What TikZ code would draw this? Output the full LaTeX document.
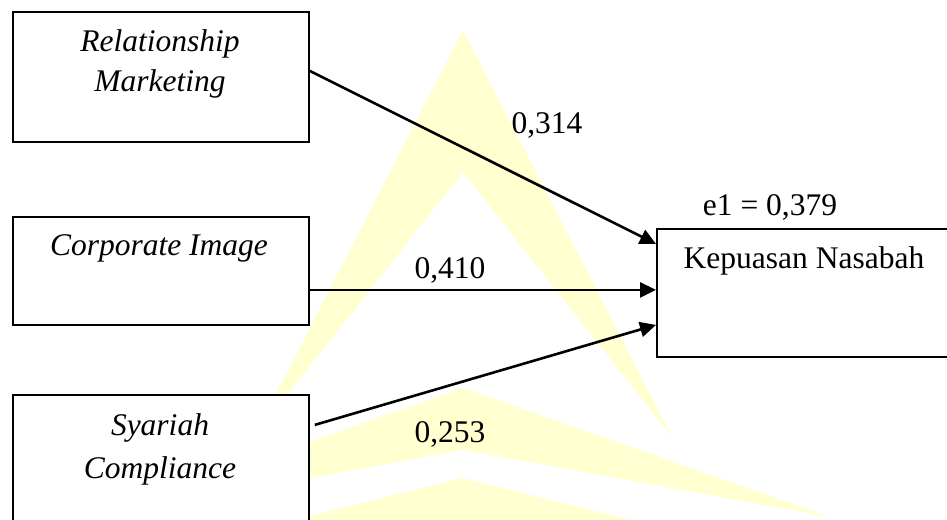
\documentclass[tikz,border=0pt]{standalone}
\usepackage{fontspec}
\setmainfont{Liberation Serif}
\usetikzlibrary{arrows.meta}
\definecolor{wm}{RGB}{255,255,208}
\begin{document}
\begin{tikzpicture}[x=1pt,y=-1pt,
  box/.style={draw=black, line width=1.8pt, fill=white, inner sep=0pt, anchor=north west},
  txt/.style={font=\fontsize{31.5}{38}\selectfont, anchor=base, inner sep=0pt},
  link/.style={line width=2.6pt, -{Triangle[length=16pt,width=15pt]}}]
\useasboundingbox (0,0) rectangle (947,519);
\clip (0,0) rectangle (947,519);
% watermark
\fill[wm] (463,30) -- (672,437) -- (463,172) -- (254,437) -- cycle;
\fill[wm] (463,388) -- (830,517) -- (463,450) -- (96,517) -- cycle;
\fill[wm] (463,478) -- (800,562) -- (463,540) -- (126,562) -- cycle;
% boxes
\node[box, minimum width=296pt, minimum height=130pt] (rm) at (12,11) {};
\node[box, minimum width=296pt, minimum height=108pt] (ci) at (12,216) {};
\node[box, minimum width=296pt, minimum height=170pt] (sc) at (12,394) {};
\node[box, minimum width=340pt, minimum height=128pt] (kn) at (656,228) {};
% texts
\node[txt] (rmA) at (160,52) {\itshape Relationship};
\node[txt] (rmB) at (160,92) {\itshape Marketing};
\node[txt] (ciA) at (159,255) {\itshape Corporate Image};
\node[txt] (scA) at (160,435) {\itshape Syariah};
\node[txt] (scB) at (160,478) {\itshape Compliance};
\node[txt] (knA) at (804,268) {Kepuasan Nasabah};
\node[txt] (e1) at (770,215) {e1 = 0,379};
\node[txt] (p1) at (547,133) {0,314};
\node[txt] (p2) at (450,278) {0,410};
\node[txt] (p3) at (450,442) {0,253};
% connectors
\draw[link] ([yshift=6pt]rm.east) -- ([yshift=49pt]kn.west);
\draw[link] ([yshift=-19pt]ci.east) -- ([yshift=3pt]kn.west);
\draw[link] ([xshift=5pt,yshift=55pt]sc.east) -- ([yshift=-32pt]kn.west);
\end{tikzpicture}
\end{document}
